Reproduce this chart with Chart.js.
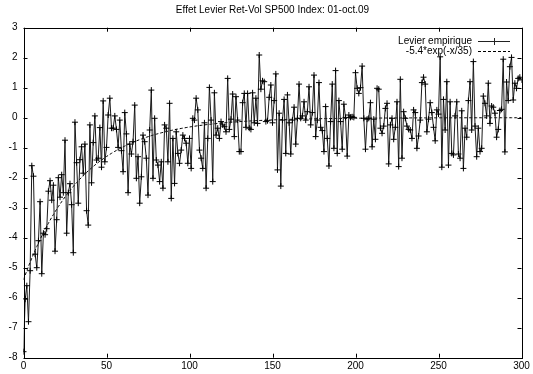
<!DOCTYPE html>
<html>
<head>
<meta charset="utf-8">
<script src="https://cdn.jsdelivr.net/npm/chart.js@4.4.1/dist/chart.umd.min.js"></script>
<style>
html,body{margin:0;padding:0;background:#fff;}
#wrap{width:533px;height:374px;position:relative;}
</style>
</head>
<body>
<div id="wrap"><canvas id="c" width="533" height="374"></canvas></div>
<script>
const chartTitle = "Effet Levier Ret-Vol SP500 Index: 01-oct.09";
const seriesLabels = ["Levier empirique", "-5.4*exp(-x/35)"];
const lagStart = 0, lagEnd = 300;
const xTicks = [0, 50, 100, 150, 200, 250, 300];
const yTicks = [3, 2, 1, 0, -1, -2, -3, -4, -5, -6, -7, -8];
const fitAmplitude = -5.4;
const fitTau = 35;

const leverage0 = [-7.8,-6.05,-5.6,-6.8,-5.1,-1.6,-1.95,-4.55,-5.0,-4.1,-2.8,-5.2,-3.85,-3.9,-3.7,-2.45,-2.1,-2.75,-2.25,-4.45,-3.4,-2.0,-2.65,-1.9,-2.5,-0.75,-3.85,-2.5,-2.2,-2.9,-4.5,-0.15,-1.5,-2.85,-1.4,-0.97,-1.85,-0.88,-3.1,-3.58,-0.24,-2.17,-0.83,0.06,-1.41,-1.35,-0.33,-1.65,0.56,-1.47];
const leverage50 = [-0.99,0.09,0.65,-0.35,-0.35,0.06,-0.39,-0.99,-0.08,-1.1,-1.8,0.17,-0.54,-2.5,-0.88,-1.21,-0.8,0.42,-2.02,-1.3,-2.85,-1.97,-0.58,-0.8,-1.35,-2.58,-0.41,0.92,-2.02,-0.02,-1.41,-1.58,-2.13,-1.47,-2.35,-0.24,-0.35,-1.47,0.48,-2.69,-0.69,-2.19,-0.47,-1.19,-1.52,-1.08,-0.58,-0.69,-0.85,-1.52];
const leverage100 = [-0.69,-1.69,-0.02,-0.08,0.65,0.26,-1.08,-1.35,-1.69,-0.17,-2.35,-0.69,1.01,-0.08,-2.13,0.83,-0.58,-0.35,-0.69,-0.13,-0.24,-0.3,-0.47,1.31,-0.39,-0.05,0.79,-0.63,0.7,-0.08,-1.13,-1.13,0.5,0.81,-0.32,0.81,-0.35,-0.39,0.83,-0.17,0.65,-0.19,2.09,0.95,1.23,1.2,-0.13,-0.1,0.68,1.09];
const leverage150 = [-0.17,0.57,1.46,-1.74,0.15,-2.28,-0.08,0.61,-1.19,0.76,-0.17,-1.21,-0.08,0.35,-0.88,-0.02,1.12,-0.02,0.06,0.53,-0.08,0.2,1.03,-0.24,0.17,1.42,-0.63,-0.08,1.17,-0.32,-0.43,-1.13,0.37,-0.69,-1.61,-0.13,1.12,-1.02,1.57,-1.19,0.57,-0.13,-1.05,0.45,0.01,-1.28,0.09,0.01,0.03,0.01];
const leverage200 = [1.5,0.98,0.81,1.0,1.72,-0.02,-1.05,-0.05,-0.02,0.5,-0.97,-0.05,-0.72,0.98,0.95,-0.35,-0.52,-0.28,0.31,0.48,-1.54,-0.24,-0.02,-0.72,-0.32,0.53,-1.63,1.28,-1.35,0.2,-0.02,-0.28,-0.39,-0.41,-0.69,0.26,0.17,-1.02,-0.61,-0.08,1.17,1.35,1.12,-0.47,-0.05,0.5,0.17,-0.32,-0.77,0.26];
const leverage250 = [0.12,2.03,-1.65,0.61,-0.41,1.2,-1.58,0.53,-1.19,-1.24,0.06,0.53,-1.21,-1.35,0.23,-1.69,-0.35,-0.65,0.57,1.2,-0.41,1.87,-0.28,-1.3,-0.35,-1.13,-1.02,0.72,0.48,0.06,1.15,-0.19,0.39,0.35,0.15,-0.65,-0.39,0.24,0.28,1.95,-1.14,1.19,0.57,1.7,2.01,0.59,1.15,0.98,1.31,1.35,1.26];

const leverage = [].concat(leverage0, leverage50, leverage100, leverage150, leverage200, leverage250);
const lags = leverage.map((_, i) => lagStart + i);
const empiricalPts = lags.map((x, i) => ({x: x, y: leverage[i]}));
const fitPts = lags.map(x => ({x: x, y: fitAmplitude * Math.exp(-x / fitTau)}));

const FONT = "'Liberation Sans', Arial, sans-serif";
const AREA = {left: 23.5, right: 521.5, top: 27.7, bottom: 357.7};

const framePlugin = {
  id: 'frame',
  afterDatasetsDraw(chart) {
    const ctx = chart.ctx, a = chart.chartArea;
    const xs = chart.scales.x, ys = chart.scales.y;
    ctx.save();
    // title centred over the plot box
    ctx.font = '10px ' + FONT;
    ctx.fillStyle = '#000';
    ctx.textAlign = 'center';
    ctx.textBaseline = 'middle';
    ctx.fillText(chartTitle, (a.left + a.right) / 2, 10);

    ctx.strokeStyle = '#000';
    ctx.lineWidth = 1;
    ctx.beginPath();
    const tl = 4;
    xTicks.forEach(v => {
      const p = Math.round(xs.getPixelForValue(v)) + 0.5;
      ctx.moveTo(p, a.bottom); ctx.lineTo(p, a.bottom - tl);
      ctx.moveTo(p, a.top); ctx.lineTo(p, a.top + tl);
    });
    yTicks.forEach(v => {
      const p = Math.round(ys.getPixelForValue(v)) + 0.5;
      ctx.moveTo(a.left, p); ctx.lineTo(a.left + tl, p);
      ctx.moveTo(a.right, p); ctx.lineTo(a.right - tl, p);
    });
    ctx.stroke();
    ctx.strokeRect(Math.round(a.left) + 0.5, Math.round(a.top) + 0.5,
                   Math.round(a.right - a.left), Math.round(a.bottom - a.top));
    // legend
    ctx.textAlign = 'right';
    const tx = 472, sx0 = 478, sx1 = 510;
    const rows = [41, 51];
    ctx.fillText(seriesLabels[0], tx, rows[0]);
    ctx.fillText(seriesLabels[1], tx, rows[1]);
    ctx.beginPath();
    ctx.strokeStyle = '#222';
    ctx.moveTo(sx0, rows[0] + 0.5); ctx.lineTo(sx1, rows[0] + 0.5);
    const mx = (sx0 + sx1) / 2;
    ctx.moveTo(mx - 3, rows[0] + 0.5); ctx.lineTo(mx + 3, rows[0] + 0.5);
    ctx.moveTo(mx + 0.5, rows[0] - 3); ctx.lineTo(mx + 0.5, rows[0] + 4);
    ctx.stroke();
    ctx.beginPath();
    ctx.setLineDash([3, 2]);
    ctx.strokeStyle = '#000';
    ctx.moveTo(sx0, rows[1] + 0.5); ctx.lineTo(sx1, rows[1] + 0.5);
    ctx.stroke();
    ctx.restore();
  }
};

new Chart(document.getElementById('c'), {
  type: 'line',
  data: {
    datasets: [
      {
        label: seriesLabels[0],
        data: empiricalPts,
        borderColor: '#1a1a1a',
        borderWidth: 1,
        pointStyle: 'cross',
        pointRadius: 3,
        pointBorderColor: '#000',
        pointBorderWidth: 1,
        tension: 0,
        fill: false
      },
      {
        label: seriesLabels[1],
        data: fitPts,
        borderColor: '#000',
        borderWidth: 1,
        borderDash: [3, 2],
        pointRadius: 0,
        tension: 0,
        fill: false
      }
    ]
  },
  options: {
    responsive: false,
    animation: false,
    layout: {padding: {left: 0, right: 533 - AREA.right, top: AREA.top, bottom: 0}},
    plugins: {
      legend: {display: false},
      tooltip: {enabled: false},
      title: {display: false}
    },
    scales: {
      x: {
        type: 'linear',
        min: lagStart, max: lagEnd,
        afterBuildTicks(s) { s.ticks = xTicks.map(v => ({value: v})); },
        afterFit(s) { s.height = 374 - AREA.bottom; },
        grid: {display: false, drawTicks: false},
        border: {display: false},
        ticks: {color: '#000', font: {family: FONT, size: 10}, padding: 3, maxRotation: 0}
      },
      y: {
        type: 'linear',
        min: -8, max: 3,
        afterBuildTicks(s) { s.ticks = yTicks.map(v => ({value: v})); },
        afterFit(s) { s.width = AREA.left; },
        grid: {display: false, drawTicks: false},
        border: {display: false},
        ticks: {color: '#000', font: {family: FONT, size: 10}, padding: 6}
      }
    }
  },
  plugins: [framePlugin]
});
</script>
</body>
</html>
